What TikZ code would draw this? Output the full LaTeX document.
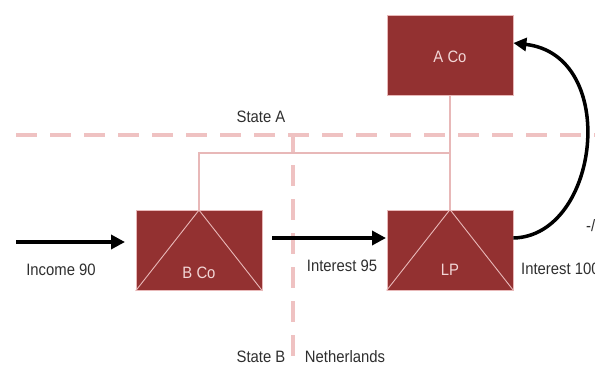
\documentclass[tikz,border=0pt]{standalone}
\usepackage{fontspec}
\setmainfont{Liberation Sans}[FakeStretch=0.9]
\usetikzlibrary{arrows.meta}
\definecolor{boxred}{HTML}{933131}
\definecolor{paleline}{HTML}{EFC2C2}
\definecolor{ownline}{HTML}{E8B8B8}
\definecolor{boxtext}{HTML}{F2D6D6}
\definecolor{labeltext}{HTML}{2E2E2E}
\tikzset{
  entity/.style={draw=ownline, line width=0.8pt, fill=boxred, minimum width=126pt, minimum height=80pt, inner sep=0pt},
  boxlabel/.style={text=boxtext, font=\fontsize{16.5}{19}\selectfont, inner sep=0pt},
  flowlabel/.style={text=labeltext, font=\fontsize{16.5}{19}\selectfont, inner sep=0pt},
  border/.style={draw=paleline, line width=4pt, dash pattern=on 21pt off 13pt},
  own/.style={draw=ownline, line width=1.3pt},
  tri/.style={draw=ownline, line width=0.9pt},
  flow/.style={draw=black, line width=4pt, -{Triangle[length=14pt,width=14pt]}},
  curveflow/.style={draw=black, line width=3.5pt, -{Triangle[length=13pt,width=13pt]}}
}
\begin{document}
\begin{tikzpicture}[x=1pt,y=-1pt]
\useasboundingbox (0,0) rectangle (595,365);
\clip (0,0) rectangle (595,365);
% borders
\draw[border] (16,135) -- (600,135);
\draw[border, dash phase=4pt] (293,135) -- (293,368);
% entities
\node[entity] (aco) at (450,55) {};
\node[entity] (lp) at (450,250) {};
\node[entity] (bco) at (199,250.5) {};
% triangles
\draw[tri] (bco.north) -- (bco.south west);
\draw[tri] (bco.north) -- (bco.south east);
\draw[tri] (lp.north) -- (lp.south west);
\draw[tri] (lp.north) -- (lp.south east);
% ownership lines
\coordinate (corner) at (199,153);
\draw[own] (bco.north) -- (corner) -- (corner -| aco.south);
\draw[own] (aco.south) -- (lp.north);
% box labels
\node[boxlabel] (acol) at (450,57) {A Co};
\node[boxlabel] (bcol) at (199,273) {B Co};
\node[boxlabel] (lpl) at (450,270) {LP};
% flows
\coordinate (src) at (16,242);
\coordinate (srctip) at (125,242);
\draw[flow] (src) -- (srctip);
\coordinate (i95a) at (272,238);
\coordinate (i95b) at (386,238);
\draw[flow] (i95a) -- (i95b);
\draw[curveflow] (lp.east |- 0,238) .. controls (600,236) and (620,55) .. (aco.east |- 0,43);
% labels
\node[flowlabel] (inc) at (61,270) {Income 90};
\node[flowlabel] (int95) at (342,266) {Interest 95};
\node[flowlabel, anchor=west] (int100) at (521,269) {Interest 100};
\node[flowlabel, anchor=west] (cut) at (586,226) {-/};
\node[flowlabel] (sta) at (261,117) {State A};
\node[flowlabel] (stb) at (261,356.5) {State B};
\node[flowlabel] (nl) at (345,356.5) {Netherlands};
\end{tikzpicture}
\end{document}
